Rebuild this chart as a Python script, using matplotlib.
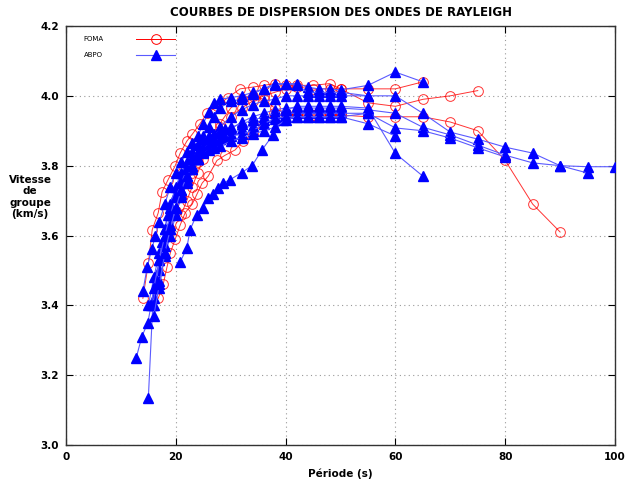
import matplotlib
matplotlib.use('Agg')
import matplotlib.pyplot as plt

# FOMA station: period (s) and group velocity (km/s) for each curve
foma_t1 = [14, 15, 15.7, 16.8, 17.5, 18.6, 19.9, 20.8, 22, 23, 24.4, 25.7, 27.5, 29.5, 31.7, 34, 36, 38, 40, 42, 45, 48, 50, 55, 60, 65]
foma_v1 = [3.42, 3.52, 3.616, 3.665, 3.725, 3.76, 3.80, 3.836, 3.87, 3.89, 3.92, 3.95, 3.97, 3.995, 4.02, 4.025, 4.03, 4.035, 4.03, 4.03, 4.03, 4.035, 4.02, 4.02, 4.02, 4.04]
foma_t2 = [16.8, 17.7, 18.4, 19, 19.9, 20.8, 21.7, 23, 23.9, 24.8, 25.9, 27.5, 29, 30.8, 32.2, 34, 35.9, 37.8, 40, 42, 45, 48, 50, 55, 60, 65, 70, 75, 80, 85, 90]
foma_v2 = [3.42, 3.46, 3.51, 3.55, 3.59, 3.63, 3.665, 3.69, 3.72, 3.75, 3.77, 3.815, 3.83, 3.845, 3.87, 3.89, 3.92, 3.95, 3.945, 3.945, 3.945, 3.945, 3.945, 3.94, 3.94, 3.94, 3.925, 3.90, 3.815, 3.69, 3.61]
foma_t3 = [19, 20, 21, 22, 23, 24, 25, 26, 28, 30, 32, 34, 36, 38, 40, 42, 45, 48, 50, 55, 60, 65, 70, 75]
foma_v3 = [3.62, 3.67, 3.71, 3.75, 3.78, 3.81, 3.84, 3.87, 3.91, 3.94, 3.965, 3.985, 4.0, 4.01, 4.02, 4.025, 4.02, 4.02, 4.02, 3.98, 3.97, 3.99, 4.00, 4.015]
foma_t4 = [21, 22, 23, 24, 25, 26, 27, 28, 30, 32, 34, 36, 38, 40, 42, 45, 48, 50]
foma_v4 = [3.66, 3.70, 3.74, 3.78, 3.82, 3.86, 3.89, 3.92, 3.965, 3.99, 4.0, 3.99, 3.965, 3.95, 3.945, 3.945, 3.945, 3.945]

# ABPO station
abpo_t1 = [15, 16, 17, 18, 19, 20, 21, 22, 23, 24, 25, 26, 27, 28, 30, 32, 34, 36, 38, 40, 42, 44, 46, 48, 50, 55, 60, 65]
abpo_v1 = [3.40, 3.48, 3.55, 3.62, 3.68, 3.72, 3.76, 3.80, 3.83, 3.86, 3.885, 3.91, 3.94, 3.965, 3.985, 3.99, 4.005, 4.02, 4.035, 4.035, 4.035, 4.025, 4.02, 4.02, 4.017, 4.03, 4.068, 4.04]
abpo_t2 = [16, 17, 18, 19, 20, 21, 22, 23, 24, 25, 26, 28, 30, 32, 34, 36, 38, 40, 42, 44, 46, 48, 50, 55, 60, 65, 70, 75, 80, 85, 90, 95, 100]
abpo_v2 = [3.40, 3.47, 3.54, 3.60, 3.66, 3.71, 3.75, 3.79, 3.82, 3.85, 3.87, 3.91, 3.94, 3.96, 3.975, 3.985, 3.99, 4.0, 4.0, 4.0, 4.0, 4.0, 4.0, 4.0, 4.0, 3.95, 3.896, 3.876, 3.853, 3.836, 3.80, 3.797, 3.797]
abpo_t3 = [16, 17, 18, 19, 20, 21, 22, 23, 24, 25, 26, 28, 30, 32, 34, 36, 38, 40, 42, 44, 46, 48, 50, 55, 60, 65, 70, 75, 80, 85, 90, 95]
abpo_v3 = [3.42, 3.50, 3.57, 3.63, 3.68, 3.72, 3.76, 3.79, 3.82, 3.84, 3.86, 3.885, 3.905, 3.925, 3.94, 3.95, 3.96, 3.965, 3.965, 3.965, 3.965, 3.965, 3.965, 3.96, 3.95, 3.91, 3.888, 3.859, 3.83, 3.808, 3.80, 3.779]
abpo_t4 = [17, 18, 19, 20, 21, 22, 23, 24, 25, 26, 27, 28, 30, 32, 34, 36, 38, 40, 42, 44, 46, 48, 50, 55, 60, 65, 70, 75, 80]
abpo_v4 = [3.45, 3.55, 3.62, 3.68, 3.73, 3.77, 3.80, 3.82, 3.84, 3.855, 3.865, 3.875, 3.89, 3.905, 3.915, 3.93, 3.94, 3.95, 3.95, 3.95, 3.95, 3.95, 3.95, 3.95, 3.908, 3.90, 3.879, 3.851, 3.825]
abpo_t5 = [15, 15.8, 16.5, 17, 17.5, 18, 18.5, 19, 20, 21, 22, 23, 24, 25, 26, 27, 28, 29, 30, 32, 34, 36, 38, 40, 42, 44, 46, 48, 50, 55, 60, 65]
abpo_v5 = [3.135, 3.40, 3.47, 3.53, 3.58, 3.62, 3.66, 3.69, 3.74, 3.78, 3.81, 3.84, 3.86, 3.875, 3.885, 3.89, 3.90, 3.905, 3.91, 3.92, 3.93, 3.94, 3.95, 3.96, 3.97, 3.97, 3.97, 3.97, 3.97, 3.965, 3.835, 3.77]
abpo_t6 = [20.8, 22, 22.6, 23.8, 25, 25.9, 26.8, 27.7, 28.6, 29.9, 32, 33.9, 35.7, 37.7, 39.5, 42, 44, 46, 48, 50, 55, 60]
abpo_v6 = [3.524, 3.564, 3.616, 3.66, 3.68, 3.707, 3.72, 3.736, 3.75, 3.76, 3.78, 3.80, 3.845, 3.888, 3.93, 3.94, 3.94, 3.94, 3.94, 3.94, 3.92, 3.885]
abpo_t7 = [14, 14.8, 15.6, 16.3, 17, 18, 19, 20, 21, 22, 23, 24, 25, 26, 27, 28, 30, 32, 34, 36, 38, 40, 42, 44, 46, 48, 50, 55]
abpo_v7 = [3.44, 3.51, 3.56, 3.60, 3.64, 3.69, 3.74, 3.78, 3.81, 3.84, 3.865, 3.885, 3.92, 3.955, 3.98, 3.99, 3.995, 4.0, 4.01, 4.02, 4.03, 4.035, 4.03, 4.01, 4.01, 4.01, 4.01, 4.00]
abpo_t8 = [12.8, 13.8, 14.9, 15.5, 16, 17, 18, 19, 20, 21, 22, 23, 24, 25, 26, 27, 28, 29, 30, 32, 34, 36, 38, 40, 42, 44, 46, 48, 50, 55]
abpo_v8 = [3.25, 3.31, 3.35, 3.40, 3.45, 3.53, 3.60, 3.66, 3.71, 3.75, 3.79, 3.82, 3.84, 3.85, 3.86, 3.87, 3.875, 3.88, 3.885, 3.89, 3.90, 3.92, 3.935, 3.94, 3.94, 3.94, 3.94, 3.94, 3.94, 3.95]
abpo_t9 = [16, 17, 18, 19, 20, 21, 22, 23, 24, 25, 26, 27, 28, 30, 32, 34, 36, 38, 40]
abpo_v9 = [3.37, 3.46, 3.55, 3.62, 3.68, 3.73, 3.77, 3.80, 3.82, 3.835, 3.845, 3.85, 3.855, 3.87, 3.88, 3.89, 3.90, 3.91, 3.93]

foma_curves = [(foma_t1, foma_v1), (foma_t2, foma_v2), (foma_t3, foma_v3), (foma_t4, foma_v4)]
abpo_curves = [(abpo_t1, abpo_v1), (abpo_t2, abpo_v2), (abpo_t3, abpo_v3), (abpo_t4, abpo_v4),
               (abpo_t5, abpo_v5), (abpo_t6, abpo_v6), (abpo_t7, abpo_v7), (abpo_t8, abpo_v8),
               (abpo_t9, abpo_v9)]

xticks = [0, 20, 40, 60, 80, 100]
yticks = [3.0, 3.2, 3.4, 3.6, 3.8, 4.0, 4.2]

plt.rcParams['font.family'] = 'DejaVu Sans'
fig = plt.figure(figsize=(6.3, 4.82), dpi=100)
ax = fig.add_axes([66/630, 37/482, 549/630, 419/482])

red = '#ff0000'
blue = '#0000ff'
for t, v in foma_curves:
    ax.plot(t, v, color=red, lw=0.7, alpha=0.8, marker='o', ms=7,
            mfc='none', mec=red, mew=0.7, zorder=2)
for t, v in abpo_curves:
    ax.plot(t, v, color='#5a5aff', lw=0.8, marker='^', ms=7.5,
            mfc=blue, mec=blue, zorder=3)

ax.set_xlim(0, 100)
ax.set_ylim(3.0, 4.2)
ax.set_xticks(xticks)
ax.set_yticks(yticks)
ax.set_xticklabels([str(x) for x in xticks], fontsize=7.5, fontweight='bold')
ax.set_yticklabels(['%.1f' % y for y in yticks], fontsize=7.5, fontweight='bold')
ax.tick_params(direction='in', length=5, width=0.8, top=True, right=True, pad=5)
ax.grid(True, linestyle=(0, (1, 3)), color='#999999', lw=0.8)
for s in ax.spines.values():
    s.set_linewidth(1.0)
    s.set_color('#333333')

ax.set_title('COURBES DE DISPERSION DES ONDES DE RAYLEIGH', fontsize=8.5,
             fontweight='bold', pad=7)
ax.set_xlabel('Période (s)', fontsize=7.5, fontweight='bold', labelpad=5)
fig.text(30/630, 1 - 197/482, 'Vitesse\nde\ngroupe\n(km/s)', ha='center', va='center',
         fontsize=7.5, fontweight='bold', linespacing=1.2)

# small key in the upper-left corner
fig.text(103/630, 1 - 39/482, 'FOMA', ha='right', va='center', fontsize=5)
fig.text(103/630, 1 - 55/482, 'ABPO', ha='right', va='center', fontsize=5)
fig.add_artist(plt.Line2D([136/630, 175/630], [1 - 39/482] * 2, color=red, lw=0.7))
fig.add_artist(plt.Line2D([156/630], [1 - 39/482], marker='o', ms=7, mfc='none',
                          mec=red, mew=0.7))
fig.add_artist(plt.Line2D([136/630, 175/630], [1 - 55/482] * 2, color='#5a5aff', lw=0.8))
fig.add_artist(plt.Line2D([156/630], [1 - 55/482], marker='^', ms=7.5, mfc=blue, mec=blue))

plt.savefig('out.png', dpi=100)
